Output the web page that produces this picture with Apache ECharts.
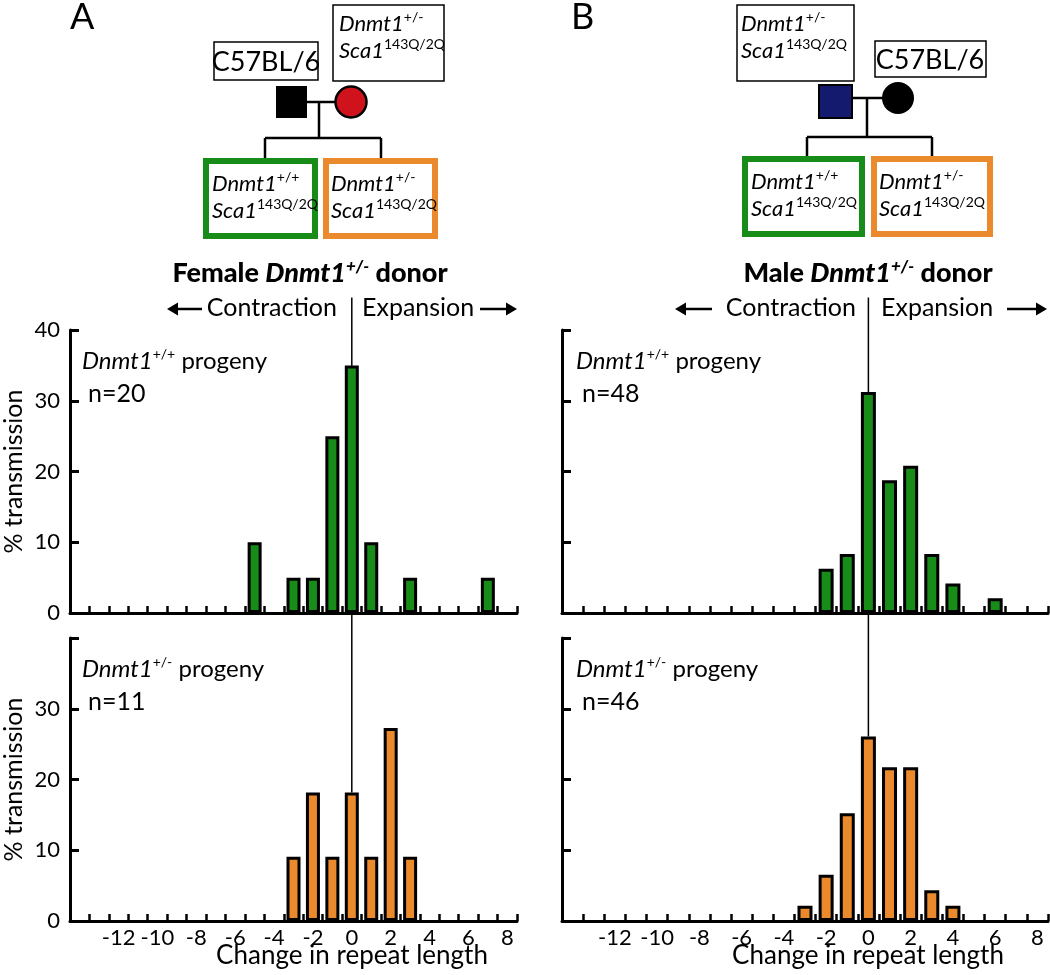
<!DOCTYPE html>
<html>
<head>
<meta charset="utf-8">
<script src="https://cdn.jsdelivr.net/npm/echarts@6/dist/echarts.min.js"></script>
<style>
	html, body { margin: 0; padding: 0; background: #fff; }
	#main { width: 1050px; height: 975px; }
</style>
</head>
<body>
<div id="main"></div>
<script>
	// change in repeat length (bin centre) and % transmission, one pair per panel
	const femaleWtChange = [-5, -3, -2, -1, 0, 1, 3, 7];
	const femaleWtPct = [10, 5, 5, 25, 35, 10, 5, 5];
	const femaleHetChange = [-3, -2, -1, 0, 1, 2, 3];
	const femaleHetPct = [9.09, 18.18, 9.09, 18.18, 9.09, 27.27, 9.09];
	const maleWtChange = [-2, -1, 0, 1, 2, 3, 4, 6];
	const maleWtPct = [6.25, 8.33, 31.25, 18.75, 20.83, 8.33, 4.17, 2.08];
	const maleHetChange = [-3, -2, -1, 0, 1, 2, 3, 4];
	const maleHetPct = [2.17, 6.52, 15.22, 26.09, 21.74, 21.74, 4.35, 2.17];

	// ticks sit on the bin edges, labels on the even values
	const xTickValues = [-14.5, -13.5, -12.5, -11.5, -10.5, -9.5, -8.5, -7.5, -6.5, -5.5, -4.5, -3.5,
		-2.5, -1.5, -0.5, 0.5, 1.5, 2.5, 3.5, 4.5, 5.5, 6.5, 7.5, 8.5];
	const xLabelValues = [-12, -10, -8, -6, -4, -2, 0, 2, 4, 6, 8];
	const yLabelsTop = [0, 10, 20, 30, 40];
	const yLabelsBottom = [0, 10, 20, 30];

	const GREEN = '#188c18';
	const ORANGE = '#eb8a2c';
	const FONT = 'Lato';

	// divider at 0 runs up to the "Contraction | Expansion" caption
	const dividerTop = 44.6;
	const dividerLowerTop = 43.6;

	const grids = [
		{ left: 63, top: 330, width: 454, height: 283 },
		{ left: 63, top: 638, width: 454, height: 283 },
		{ left: 562, top: 330, width: 486, height: 283 },
		{ left: 562, top: 638, width: 486, height: 283 }
	];
	const panels = [
		{ change: femaleWtChange, pct: femaleWtPct, color: GREEN, bottom: false, left: true },
		{ change: femaleHetChange, pct: femaleHetPct, color: ORANGE, bottom: true, left: true },
		{ change: maleWtChange, pct: maleWtPct, color: GREEN, bottom: false, left: false },
		{ change: maleHetChange, pct: maleHetPct, color: ORANGE, bottom: true, left: false }
	];

	let xAxes = [], yAxes = [], series = [];
	panels.forEach(function(p, i) {
		xAxes.push({
			type: 'value', gridIndex: i, min: -14.5, max: 8.5,
			axisLine: { onZero: false, lineStyle: { color: '#000', width: 3 } },
			axisTick: { show: true, inside: true, length: 7, customValues: xTickValues,
				lineStyle: { color: '#000', width: 2.5 } },
			axisLabel: { show: p.bottom, customValues: xLabelValues, color: '#000',
				fontSize: 22, fontFamily: FONT, margin: 6 },
			splitLine: { show: false }
		});
		yAxes.push({
			type: 'value', gridIndex: i, min: 0, max: 40, interval: 10,
			name: p.left ? '% transmission' : '', nameLocation: 'middle', nameGap: 44,
			nameTextStyle: { color: '#000', fontSize: 25, fontFamily: FONT },
			axisLine: { show: true, onZero: false, lineStyle: { color: '#000', width: 3 } },
			axisTick: { show: true, inside: true, length: 9, lineStyle: { color: '#000', width: 3 } },
			axisLabel: { show: p.left, customValues: p.bottom ? yLabelsBottom : yLabelsTop,
				color: '#000', fontSize: 22, fontFamily: FONT, margin: 10 },
			splitLine: { show: false }
		});
		series.push({
			type: 'bar', xAxisIndex: i, yAxisIndex: i, z: 3,
			barWidth: i < 2 ? 14 : 15,
			data: p.change.map(function(c, j) { return [c, p.pct[j]]; }),
			itemStyle: { color: p.color, borderColor: '#000', borderWidth: 3 }
		});
		let zeroVal = p.pct[p.change.indexOf(0)];
		series.push({
			type: 'line', xAxisIndex: i, yAxisIndex: i, z: 1, clip: false, silent: true,
			symbol: 'none',
			data: p.bottom ? [[0, dividerLowerTop], [0, zeroVal]] : [[0, dividerTop], [0, 0]],
			lineStyle: { color: '#000', width: 1.5 }
		});
	});

	const geneRich = {
		i: { fontFamily: FONT, fontStyle: 'italic', fontSize: 22, lineHeight: 27, fill: '#000' },
		s: { fontFamily: FONT, fontSize: 14, lineHeight: 27, verticalAlign: 'top', fill: '#000' }
	};
	function geneBox(x, y, sup) {
		return {
			type: 'text', x: x, y: y,
			style: { text: '{i|Dnmt1}{s|' + sup + '}\n{i|Sca1}{s|143Q/2Q}', rich: geneRich }
		};
	}
	function box(x, y, w, h, stroke, lw) {
		return { type: 'rect', shape: { x: x, y: y, width: w, height: h },
			style: { fill: '#fff', stroke: stroke, lineWidth: lw } };
	}
	function seg(x1, y1, x2, y2, lw) {
		return { type: 'line', shape: { x1: x1, y1: y1, x2: x2, y2: y2 },
			style: { stroke: '#000', lineWidth: lw || 2.5 } };
	}
	// arrow with a filled head; dir -1 points left, 1 points right
	function arrow(x1, x2, y, dir) {
		let tip = dir < 0 ? x1 : x2;
		let base = tip - dir * 11;
		return [
			seg(dir < 0 ? base : x1, y, dir < 0 ? x2 : base, y, 2.5),
			{ type: 'polygon', shape: { points: [[tip, y], [base, y - 6.5], [base, y + 6.5]] }, style: { fill: '#000' } }
		];
	}
	function txt(x, y, s, size, align, extra) {
		return { type: 'text', x: x, y: y,
			style: Object.assign({ text: s, fontFamily: FONT, fontSize: size, fill: '#000',
				align: align || 'left', verticalAlign: 'middle' }, extra || {}) };
	}
	function donorTitle(cx, word) {
		return { type: 'text', x: cx, y: 273,
			style: { text: '{b|' + word + ' }{bi|Dnmt1}{bs|+/-}{b| donor}', align: 'center', verticalAlign: 'middle',
				rich: {
					b: { fontFamily: FONT, fontWeight: 900, fontSize: 27, lineHeight: 30, fill: '#000' },
					bi: { fontFamily: FONT, fontWeight: 900, fontStyle: 'italic', fontSize: 27, lineHeight: 30, fill: '#000' },
					bs: { fontFamily: FONT, fontWeight: 900, fontStyle: 'italic', fontSize: 17, lineHeight: 30, verticalAlign: 'top', fill: '#000' }
				} } };
	}
	function progeny(x, y, sup, n) {
		return [
			{ type: 'text', x: x, y: y,
				style: { text: '{i|Dnmt1}{s|' + sup + '}{p| progeny}', verticalAlign: 'middle',
					rich: {
						i: { fontFamily: FONT, fontStyle: 'italic', fontSize: 24, lineHeight: 28, fill: '#000' },
						s: { fontFamily: FONT, fontSize: 14, lineHeight: 28, verticalAlign: 'top', fill: '#000' },
						p: { fontFamily: FONT, fontSize: 24, lineHeight: 28, fill: '#000' }
					} } },
			txt(x + 6, y + 33, n, 25)
		];
	}

	let graphics = [
		txt(70, 17, 'A', 36),
		txt(571, 17, 'B', 36),

		// pedigree A: C57BL/6 father x Dnmt1+/- mother
		box(214, 42, 104, 38, '#000', 1.5),
		txt(266, 62, 'C57BL/6', 27, 'center'),
		box(333, 5, 111, 76, '#000', 1.5),
		geneBox(339, 10, '+/-'),
		seg(307, 102, 336, 102), seg(319, 102, 319, 138),
		seg(265, 138, 381, 138), seg(265, 138, 265, 160), seg(381, 138, 381, 160),
		{ type: 'rect', shape: { x: 276, y: 86, width: 31, height: 32 }, style: { fill: '#000' } },
		{ type: 'circle', shape: { cx: 351, cy: 102, r: 15.5 }, style: { fill: '#d0121c', stroke: '#000', lineWidth: 2.5 } },
		box(206, 161, 109, 75, GREEN, 6),
		geneBox(212, 170, '+/+'),
		box(326, 161, 109, 75, ORANGE, 6),
		geneBox(331, 170, '+/-'),
		donorTitle(310, 'Female'),
		txt(337, 308, 'Contraction', 25, 'right'),
		txt(362, 308, 'Expansion', 25, 'left'),

		// pedigree B: Dnmt1+/- father x C57BL/6 mother
		box(737, 5, 117, 76, '#000', 1.5),
		geneBox(741, 10, '+/-'),
		box(875, 41, 111, 36, '#000', 1.5),
		txt(930, 60, 'C57BL/6', 27, 'center'),
		seg(853, 98, 884, 98), seg(867, 98, 867, 137),
		seg(807, 137, 932, 137), seg(807, 137, 807, 158), seg(932, 137, 932, 158),
		{ type: 'rect', shape: { x: 819, y: 85, width: 33, height: 33 }, style: { fill: '#141a6e', stroke: '#000', lineWidth: 2 } },
		{ type: 'circle', shape: { cx: 898, cy: 98, r: 16 }, style: { fill: '#000' } },
		box(745, 159, 117, 75, GREEN, 6),
		geneBox(751, 168, '+/+'),
		box(874, 159, 116, 75, ORANGE, 6),
		geneBox(879, 168, '+/-'),
		donorTitle(868, 'Male'),
		txt(856, 308, 'Contraction', 25, 'right'),
		txt(881, 308, 'Expansion', 25, 'left'),

		// x-axis titles
		txt(352, 956, 'Change in repeat length', 26, 'center'),
		txt(868, 956, 'Change in repeat length', 26, 'center')
	];
	graphics = graphics
		.concat(arrow(167, 202, 309, -1)).concat(arrow(480, 517, 309, 1))
		.concat(arrow(675, 712, 309, -1)).concat(arrow(1007, 1047, 309, 1))
		.concat(progeny(82, 361, '+/+', 'n=20'))
		.concat(progeny(82, 669, '+/-', 'n=11'))
		.concat(progeny(576, 361, '+/+', 'n=48'))
		.concat(progeny(576, 669, '+/-', 'n=46'));

	const myChart = echarts.init(document.getElementById('main'), null, { renderer: 'canvas' });
	myChart.setOption({
		animation: false,
		backgroundColor: '#fff',
		grid: grids,
		xAxis: xAxes,
		yAxis: yAxes,
		series: series,
		graphic: graphics
	});
</script>
</body>
</html>
